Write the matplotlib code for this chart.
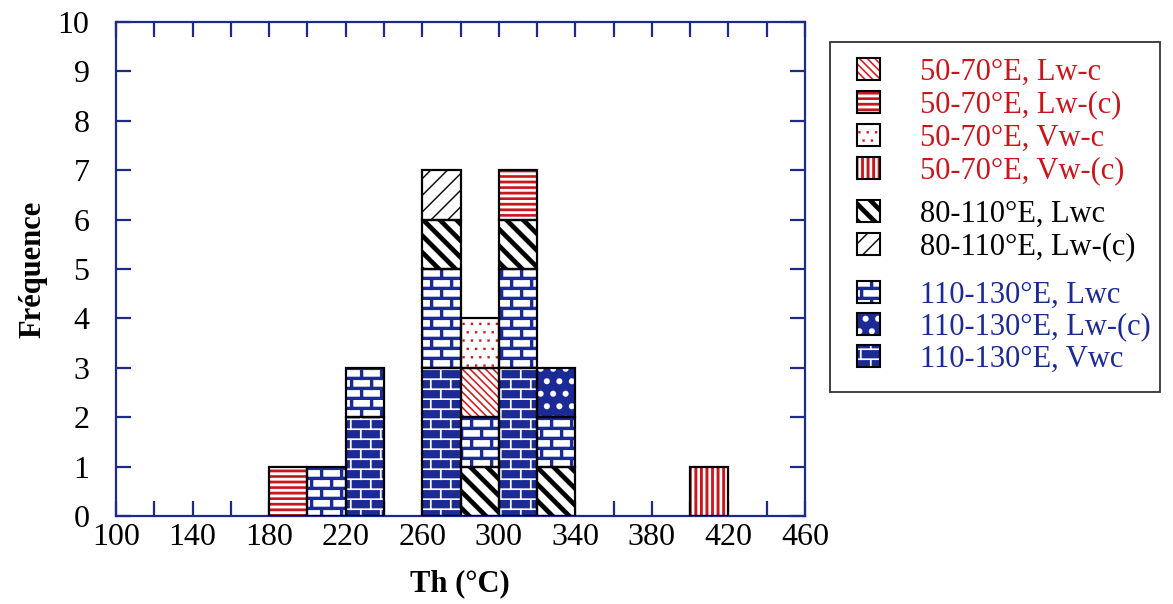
import warnings
import numpy as np
import matplotlib
matplotlib.use('Agg')
import matplotlib.pyplot as plt
import matplotlib.hatch as mhatch
from matplotlib.patches import Patch, Rectangle
from matplotlib.ticker import MultipleLocator

warnings.filterwarnings('ignore')

# ------------------------------------------------------
# data : 20 °C classes (left edge) and counts per group

bin_left = [180, 200, 220, 260, 280, 300, 320, 400]
bin_width = 20

red_lwc = [0, 0, 0, 0, 1, 0, 0, 0]      # 50-70°E, Lw-c
red_lw_c = [1, 0, 0, 0, 0, 1, 0, 0]     # 50-70°E, Lw-(c)
red_vwc = [0, 0, 0, 0, 1, 0, 0, 0]      # 50-70°E, Vw-c
red_vw_c = [0, 0, 0, 0, 0, 0, 0, 1]     # 50-70°E, Vw-(c)
mid_lwc = [0, 0, 0, 1, 1, 1, 1, 0]      # 80-110°E, Lwc
mid_lw_c = [0, 0, 0, 1, 0, 0, 0, 0]     # 80-110°E, Lw-(c)
blue_lwc = [0, 1, 1, 2, 1, 2, 1, 0]     # 110-130°E, Lwc
blue_lw_c = [0, 0, 0, 0, 0, 0, 1, 0]    # 110-130°E, Lw-(c)
blue_vwc = [0, 0, 2, 3, 0, 3, 0, 0]     # 110-130°E, Vwc

series = [red_lwc, red_lw_c, red_vwc, red_vw_c, mid_lwc, mid_lw_c,
          blue_lwc, blue_lw_c, blue_vwc]

labels = ['50-70°E, Lw-c', '50-70°E, Lw-(c)', '50-70°E, Vw-c', '50-70°E, Vw-(c)',
          '80-110°E, Lwc', '80-110°E, Lw-(c)',
          '110-130°E, Lwc', '110-130°E, Lw-(c)', '110-130°E, Vwc']

# order of the pieces in each bar, bottom to top
stack_order = [[1], [6], [8, 6], [8, 6, 4, 5], [4, 6, 0, 2], [8, 6, 4, 1],
               [4, 6, 7], [3]]

x_ticks = [100, 140, 180, 220, 260, 300, 340, 380, 420, 460]

# ------------------------------------------------------
# filled hatch patterns (bricks, thick stripes...)


def _rect(x0, y0, x1, y1):
    return [(x0, y0), (x1, y0), (x1, y1), (x0, y1)]


def _back_diag(n, w):
    return [[(c + 1, -1), (c + 1 + w, -1), (c - 2 + w, 2), (c - 2, 2)]
            for c in [k / n for k in range(-1, 2 * n + 1)]]


def _fwd_diag(n, w):
    return [[(c - 1, -1), (c - 1 + w, -1), (c + 2 + w, 2), (c + 2, 2)]
            for c in [k / n for k in range(-n - 1, n + 1)]]


def _bricks(t, rows=10, cols=5):
    polys = []
    for i in range(rows):
        y = i / rows
        polys.append(_rect(-0.1, y, 1.1, y + t))
        for j in range(cols):
            x = (j + 0.5 * (i % 2)) / cols
            polys.append(_rect(x, y, x + t, y + 1.0 / rows))
    return polys


class FilledHatch(mhatch.HatchPatternBase):
    def __init__(self, hatch, density):
        polys = []
        if 'k' in hatch:
            polys += _back_diag(6, 0.065)
        if 't' in hatch:
            polys += _back_diag(13, 0.02)
        if 's' in hatch:
            polys += _fwd_diag(6, 0.018)
        if 'h' in hatch:
            n = 18
            polys += [_rect(-0.1, i / n, 1.1, i / n + 0.026) for i in range(n)]
        if 'v' in hatch:
            n = 18
            polys += [_rect(i / n, -0.1, i / n + 0.028, 1.1) for i in range(n)]
        if 'd' in hatch:
            n, s = 12, 0.022
            for i in range(n):
                for j in range(n):
                    x = (j + 0.5 * (i % 2)) / n
                    polys.append(_rect(x, i / n, x + s, i / n + s))
        if 'b' in hatch:
            polys += _bricks(0.032)
        if 'w' in hatch:
            polys += _bricks(0.016)
        if 'c' in hatch:
            n, r = 8, 0.03
            ang = np.linspace(0, 2 * np.pi, 12, endpoint=False)
            for i in range(n):
                for j in range(n):
                    cx = (j + 0.25 + 0.5 * (i % 2)) / n
                    cy = (i + 0.5) / n
                    polys.append(list(zip(cx + r * np.cos(ang), cy + r * np.sin(ang))))
        self.polys = polys
        self.num_vertices = sum(len(p) + 1 for p in polys)

    def set_vertices_and_codes(self, vertices, codes):
        i = 0
        for p in self.polys:
            m = len(p)
            vertices[i:i + m] = p
            vertices[i + m] = p[0]
            codes[i] = mhatch.Path.MOVETO
            codes[i + 1:i + m] = mhatch.Path.LINETO
            codes[i + m] = mhatch.Path.CLOSEPOLY
            i += m + 1


mhatch._hatch_types.append(FilledHatch)

# ------------------------------------------------------

red = '#c8161d'
blue = '#1c2a96'
navy = '#1f2a86'

# face colour, hatch colour, hatch
styles = [('white', red, 't'), ('white', red, 'h'), ('white', red, 'd'),
          ('white', red, 'v'), ('white', 'black', 'k'), ('white', 'black', 's'),
          ('white', blue, 'b'), (blue, 'white', 'c'), (blue, 'white', 'w')]
text_colors = [red] * 4 + ['black'] * 2 + [blue] * 3

plt.rcParams['font.family'] = 'Liberation Serif'
plt.rcParams['hatch.linewidth'] = 0.1

fig = plt.figure(figsize=(11.73, 6.04), dpi=100)
ax = fig.add_axes([116 / 1173, 88 / 604, 689 / 1173, 494 / 604])

for i, left in enumerate(bin_left):
    bottom = 0
    for k in stack_order[i]:
        h = series[k][i]
        fc, hc, ht = styles[k]
        ax.bar(left, h, width=bin_width, bottom=bottom, align='edge',
               facecolor=fc, edgecolor=hc, linewidth=0, hatch=ht, zorder=2)
        ax.bar(left, h, width=bin_width, bottom=bottom, align='edge',
               fill=False, edgecolor='black', linewidth=1.6, zorder=3)
        bottom += h

ax.set_xlim(100, 460)
ax.set_ylim(0, 10)
ax.set_xticks(x_ticks)
ax.xaxis.set_minor_locator(MultipleLocator(20))
ax.yaxis.set_major_locator(MultipleLocator(1))
ax.tick_params(which='both', direction='in', top=True, right=True,
               length=11, width=1.6, color=navy, labelsize=23)
ax.tick_params(axis='y', pad=19)
ax.tick_params(axis='x', pad=5)
for sp in ax.spines.values():
    sp.set_color(navy)
    sp.set_linewidth(1.6)

ax.set_xlabel('Th (°C)', fontsize=22, fontweight='bold')
ax.xaxis.set_label_coords(0.499, -0.107)
ax.set_ylabel('Fréquence', fontsize=22, fontweight='bold')
ax.yaxis.set_label_coords(-0.1, 0.5)

# legend: one entry per row, three colour groups
row_y = [72, 105, 138, 171, 214, 247, 295, 327, 359]
for k in range(len(labels)):
    fc, hc, ht = styles[k]
    handle = (Patch(facecolor=fc, edgecolor=hc, linewidth=0, hatch=ht),
              Patch(fill=False, edgecolor='black', linewidth=1.5))
    fig.legend([handle], [labels[k]], loc='center left',
               bbox_to_anchor=(857 / 1173, 1 - row_y[k] / 604),
               frameon=False, fontsize=22, labelcolor=text_colors[k],
               handlelength=0.76, handleheight=0.74, handletextpad=1.3,
               borderpad=0, borderaxespad=0)

fig.add_artist(Rectangle((830 / 1173, 1 - 392 / 604), 330 / 1173, 350 / 604,
                         transform=fig.transFigure, fill=False,
                         edgecolor='#333333', linewidth=1.3))

fig.savefig('out.png', dpi=100)
